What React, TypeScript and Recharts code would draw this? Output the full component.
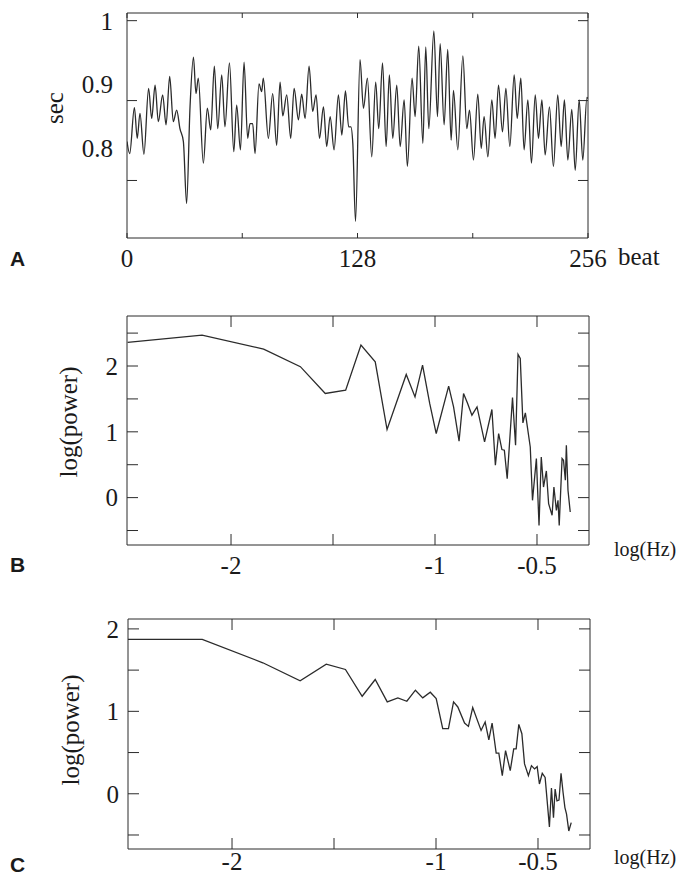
import { LineChart, Line, XAxis, YAxis } from "recharts";

// Panel A: RR intervals (sec) against beat number
const beatA = [
  0, 1.5, 4.1, 5.7, 7.2, 9.4, 12.0, 13.7, 15.6, 17.4, 19.8, 21.7, 23.7, 25.7, 27.6, 29.4,
  31.3, 33.1, 35.0, 36.9, 38.3, 39.6, 42.4, 44.6, 46.5, 48.5, 50.4, 52.6, 54.4, 56.9, 59.3,
  60.9, 63.0, 65.0, 67.0, 68.3, 69.8, 71.1, 73.3, 74.8, 75.7, 78.5, 80.9, 83.1, 85.0, 86.5,
  88.7, 90.9, 92.8, 95.2, 97.0, 98.9, 101.1, 103.1, 105.0, 106.9, 109.1, 110.9, 112.8, 115.0,
  117.4, 119.3, 121.3, 123.1, 124.3, 125.4, 126.9, 129.4, 131.3, 133.5, 135.9, 138.1, 139.8,
  141.9, 143.9, 145.7, 147.6, 149.8, 151.7, 153.9, 155.7, 158.3, 160.0, 162.0, 164.3, 165.9,
  167.6, 170.4, 172.4, 173.9, 176.1, 178.1, 180.0, 181.3, 183.7, 186.5, 188.7, 190.2, 192.4,
  194.8, 196.7, 198.3, 200.4, 202.6, 204.4, 206.3, 208.5, 210.4, 212.6, 215.0, 216.7, 218.7,
  220.5, 222.6, 224.6, 226.7, 228.5, 230.4, 232.2, 234.6, 236.8, 239.2, 241.1, 242.9, 244.8,
  247.0, 248.9, 251.1, 253.1, 255.4, 256,
];
const rrA = [
  0.811, 0.792, 0.864, 0.816, 0.855, 0.791, 0.894, 0.847, 0.899, 0.842, 0.884, 0.837, 0.913,
  0.842, 0.86, 0.831, 0.811, 0.714, 0.865, 0.943, 0.886, 0.91, 0.777, 0.863, 0.829, 0.929,
  0.831, 0.915, 0.834, 0.934, 0.795, 0.868, 0.798, 0.935, 0.816, 0.839, 0.839, 0.792, 0.901,
  0.889, 0.91, 0.816, 0.886, 0.805, 0.904, 0.851, 0.884, 0.816, 0.894, 0.845, 0.885, 0.847,
  0.929, 0.858, 0.884, 0.816, 0.865, 0.803, 0.85, 0.798, 0.884, 0.821, 0.89, 0.834, 0.834,
  0.808, 0.686, 0.939, 0.863, 0.91, 0.787, 0.904, 0.831, 0.934, 0.803, 0.915, 0.816, 0.899,
  0.803, 0.876, 0.772, 0.91, 0.85, 0.96, 0.808, 0.959, 0.831, 0.984, 0.85, 0.964, 0.837,
  0.955, 0.813, 0.891, 0.798, 0.945, 0.831, 0.86, 0.782, 0.885, 0.8, 0.85, 0.787, 0.876,
  0.816, 0.899, 0.826, 0.894, 0.803, 0.915, 0.847, 0.91, 0.798, 0.876, 0.777, 0.884, 0.816,
  0.876, 0.79, 0.865, 0.772, 0.884, 0.803, 0.876, 0.782, 0.861, 0.766, 0.876, 0.782, 0.88,
  0.878,
];
const beatTicks = [0, 64, 128, 192, 256];
const beatLabels = [0, 128, 256];
const secMarks = [0.75, 0.875, 1];
const secLabels = [0.8, 0.9, 1];

// Panel B: spectrum, log(power) against log(Hz)
const hzB = [
  -2.507, -2.142, -1.84, -1.66, -1.538, -1.438, -1.363, -1.293, -1.235, -1.141, -1.098,
  -1.061, -1.026, -0.994, -0.933, -0.909, -0.882, -0.86, -0.84, -0.819, -0.794, -0.757,
  -0.721, -0.704, -0.688, -0.672, -0.66, -0.646, -0.62, -0.605, -0.593, -0.582, -0.569,
  -0.557, -0.533, -0.522, -0.503, -0.49, -0.479, -0.468, -0.454, -0.443, -0.426, -0.417,
  -0.405, -0.397, -0.391, -0.377, -0.37, -0.361, -0.356, -0.348, -0.337,
];
const powB = [
  2.36, 2.47, 2.257, 1.99, 1.583, 1.633, 2.318, 2.064, 1.035, 1.872, 1.531, 2.014, 1.431,
  0.974, 1.694, 1.379, 0.857, 1.583, 1.431, 1.253, 1.379, 0.846, 1.339, 0.492, 0.974, 0.731,
  0.72, 0.289, 1.522, 0.796, 2.176, 2.116, 1.136, 1.288, 0.77, -0.041, 0.594, -0.422, 0.618,
  0.161, 0.405, -0.091, -0.269, 0.161, -0.193, -0.041, -0.422, 0.594, 0.568, 0.263, 0.796,
  0.111, -0.219,
];

// Panel C: second spectrum
const hzC = [
  -2.511, -2.146, -1.849, -1.666, -1.538, -1.444, -1.362, -1.298, -1.239, -1.187, -1.143,
  -1.101, -1.065, -1.028, -0.999, -0.967, -0.939, -0.914, -0.893, -0.86, -0.841, -0.82,
  -0.779, -0.759, -0.741, -0.725, -0.705, -0.692, -0.675, -0.659, -0.636, -0.619, -0.607,
  -0.594, -0.579, -0.566, -0.547, -0.532, -0.517, -0.504, -0.493, -0.479, -0.465, -0.444,
  -0.434, -0.424, -0.416, -0.407, -0.397, -0.387, -0.377, -0.368, -0.36, -0.349, -0.337,
];
const powC = [
  1.874, 1.874, 1.589, 1.37, 1.573, 1.508, 1.183, 1.386, 1.114, 1.163, 1.122, 1.256, 1.163,
  1.232, 1.154, 0.789, 0.789, 1.114, 1.053, 0.858, 0.817, 1.045, 0.768, 0.87, 0.655, 0.858,
  0.492, 0.492, 0.22, 0.524, 0.28, 0.545, 0.545, 0.841, 0.728, 0.362, 0.22, 0.341, 0.301,
  0.329, 0.118, 0.248, 0.199, -0.402, 0.069, -0.289, 0.057, -0.085, -0.077, 0.248, 0.016,
  -0.167, -0.248, -0.451, -0.35,
];
const hzTicks = [-2, -1.5, -1, -0.5];
const hzLabels = [-2, -1, -0.5];
const powLabels = [0, 1, 2];

const SERIF = "Liberation Serif";
const SANS = "Liberation Sans";
const INK = "#2b2b2b";
const TEXT = "#1a1a1a";
const FS = 25;

const tickText = { fill: TEXT, fontSize: FS, fontFamily: SERIF };
const blank = () => "";

const dataA = beatA.map((b, i) => ({ beat: b, rr: rrA[i] }));
const dataB = hzB.map((h, i) => ({ hz: h, pow: powB[i] }));
const dataC = hzC.map((h, i) => ({ hz: h, pow: powC[i] }));

function PanelA() {
  const dom: [number, number] = [0.66, 1.012];
  return (
    <LineChart
      width={679}
      height={290}
      data={dataA}
      margin={{ top: 12, right: 90, bottom: 12, left: 81 }}
    >
      <XAxis
        xAxisId="x"
        dataKey="beat"
        type="number"
        domain={[0, 256]}
        allowDataOverflow
        ticks={beatTicks}
        interval={0}
        tickFormatter={(v) => (beatLabels.includes(v) ? String(v) : "")}
        height={40}
        tickSize={-5}
        tickMargin={16}
        stroke={INK}
        tick={tickText}
      />
      <XAxis
        xAxisId="top"
        orientation="top"
        dataKey="beat"
        type="number"
        domain={[0, 256]}
        allowDataOverflow
        ticks={beatTicks}
        interval={0}
        tickFormatter={blank}
        height={1}
        tickSize={-5}
        stroke={INK}
      />
      <YAxis
        yAxisId="marks"
        type="number"
        domain={dom}
        allowDataOverflow
        ticks={secMarks}
        interval={0}
        tickFormatter={blank}
        width={1}
        tickSize={-10}
        stroke={INK}
      />
      <YAxis
        yAxisId="sec"
        type="number"
        domain={dom}
        allowDataOverflow
        ticks={secLabels}
        interval={0}
        width={45}
        axisLine={false}
        tickLine={false}
        tickSize={0}
        tickMargin={13}
        tick={tickText}
      />
      <YAxis
        yAxisId="right"
        orientation="right"
        type="number"
        domain={dom}
        allowDataOverflow
        ticks={secMarks}
        interval={0}
        tickFormatter={blank}
        width={1}
        tickSize={-10}
        stroke={INK}
      />
      <Line
        xAxisId="x"
        yAxisId="sec"
        dataKey="rr"
        type="monotone"
        stroke={INK}
        strokeWidth={1.3}
        dot={false}
        isAnimationActive={false}
      />
      <Line
        xAxisId="top"
        yAxisId="marks"
        dataKey="rr"
        stroke="none"
        dot={false}
        activeDot={false}
        isAnimationActive={false}
      />
      <Line
        xAxisId="top"
        yAxisId="right"
        dataKey="rr"
        stroke="none"
        dot={false}
        activeDot={false}
        isAnimationActive={false}
      />
    </LineChart>
  );
}

function Spectrum({
  data,
  height,
  yDomain,
  yMarks,
  margin,
  labelGap,
}: {
  data: { hz: number; pow: number }[];
  height: number;
  yDomain: [number, number];
  yMarks: number[];
  margin: { top: number; right: number; bottom: number; left: number };
  labelGap: number;
}) {
  const xDom: [number, number] = [-2.51, -0.245];
  return (
    <LineChart width={679} height={height} data={data} margin={margin}>
      <XAxis
        xAxisId="x"
        dataKey="hz"
        type="number"
        domain={xDom}
        allowDataOverflow
        ticks={hzTicks}
        interval={0}
        tickFormatter={(v) => (hzLabels.includes(v) ? String(v) : "")}
        height={20}
        tickSize={-11}
        tickMargin={labelGap}
        stroke={INK}
        tick={tickText}
      />
      <XAxis
        xAxisId="top"
        orientation="top"
        dataKey="hz"
        type="number"
        domain={xDom}
        allowDataOverflow
        ticks={hzTicks}
        interval={0}
        tickFormatter={blank}
        height={1}
        tickSize={-11}
        stroke={INK}
      />
      <YAxis
        yAxisId="y"
        type="number"
        domain={yDomain}
        allowDataOverflow
        ticks={yMarks}
        interval={0}
        tickFormatter={(v) => (powLabels.includes(v) ? String(v) : "")}
        width={50}
        tickSize={-11}
        tickMargin={20}
        stroke={INK}
        tick={tickText}
      />
      <YAxis
        yAxisId="right"
        orientation="right"
        type="number"
        domain={yDomain}
        allowDataOverflow
        ticks={yMarks}
        interval={0}
        tickFormatter={blank}
        width={1}
        tickSize={-11}
        stroke={INK}
      />
      <Line
        xAxisId="x"
        yAxisId="y"
        dataKey="pow"
        type="linear"
        stroke={INK}
        strokeWidth={1.3}
        dot={false}
        isAnimationActive={false}
      />
      <Line
        xAxisId="top"
        yAxisId="right"
        dataKey="pow"
        stroke="none"
        dot={false}
        activeDot={false}
        isAnimationActive={false}
      />
    </LineChart>
  );
}

export default function App() {
  return (
    <div
      style={{
        position: "absolute",
        left: 0,
        top: 0,
        width: 679,
        height: 874,
        background: "#fff",
        overflow: "hidden",
      }}
    >
      <div style={{ position: "absolute", left: 0, top: 0 }}>
        <PanelA />
      </div>
      <div style={{ position: "absolute", left: 0, top: 290 }}>
        <Spectrum
          data={dataB}
          height={290}
          yDomain={[-0.72, 2.76]}
          yMarks={[-0.5, 0, 0.5, 1, 1.5, 2, 2.5]}
          margin={{ top: 25, right: 89, bottom: 15, left: 77 }}
          labelGap={22}
        />
      </div>
      <div style={{ position: "absolute", left: 0, top: 580 }}>
        <Spectrum
          data={dataC}
          height={294}
          yDomain={[-0.67, 2.12]}
          yMarks={[-0.5, 0, 0.5, 1, 1.5, 2]}
          margin={{ top: 38, right: 88, bottom: 5, left: 78 }}
          labelGap={14}
        />
      </div>
      <svg
        width={679}
        height={874}
        style={{ position: "absolute", left: 0, top: 0, pointerEvents: "none" }}
      >
        <g fontFamily={SERIF} fontSize={FS} fill={TEXT}>
          <text x={54} y={108} textAnchor="middle" dominantBaseline="central" transform="rotate(-90 54 108)">
            sec
          </text>
          <text x={618} y={256} dominantBaseline="central">beat</text>
          <text
            x={68}
            y={422}
            textAnchor="middle"
            dominantBaseline="central"
            transform="rotate(-90 68 422)"
          >
            log(power)
          </text>
          <text
            x={70}
            y={730}
            textAnchor="middle"
            dominantBaseline="central"
            transform="rotate(-90 70 730)"
          >
            log(power)
          </text>
        </g>
        <g fontFamily={SERIF} fontSize={20} fill={TEXT}>
          <text x={614} y={549} dominantBaseline="central">log(Hz)</text>
          <text x={614} y={857} dominantBaseline="central">log(Hz)</text>
        </g>
        <g fontFamily={SANS} fontSize={21} fontWeight="bold" fill={TEXT}>
          <text x={10} y={258} dominantBaseline="central">A</text>
          <text x={10} y={564} dominantBaseline="central">B</text>
          <text x={10} y={864} dominantBaseline="central">C</text>
        </g>
      </svg>
    </div>
  );
}
